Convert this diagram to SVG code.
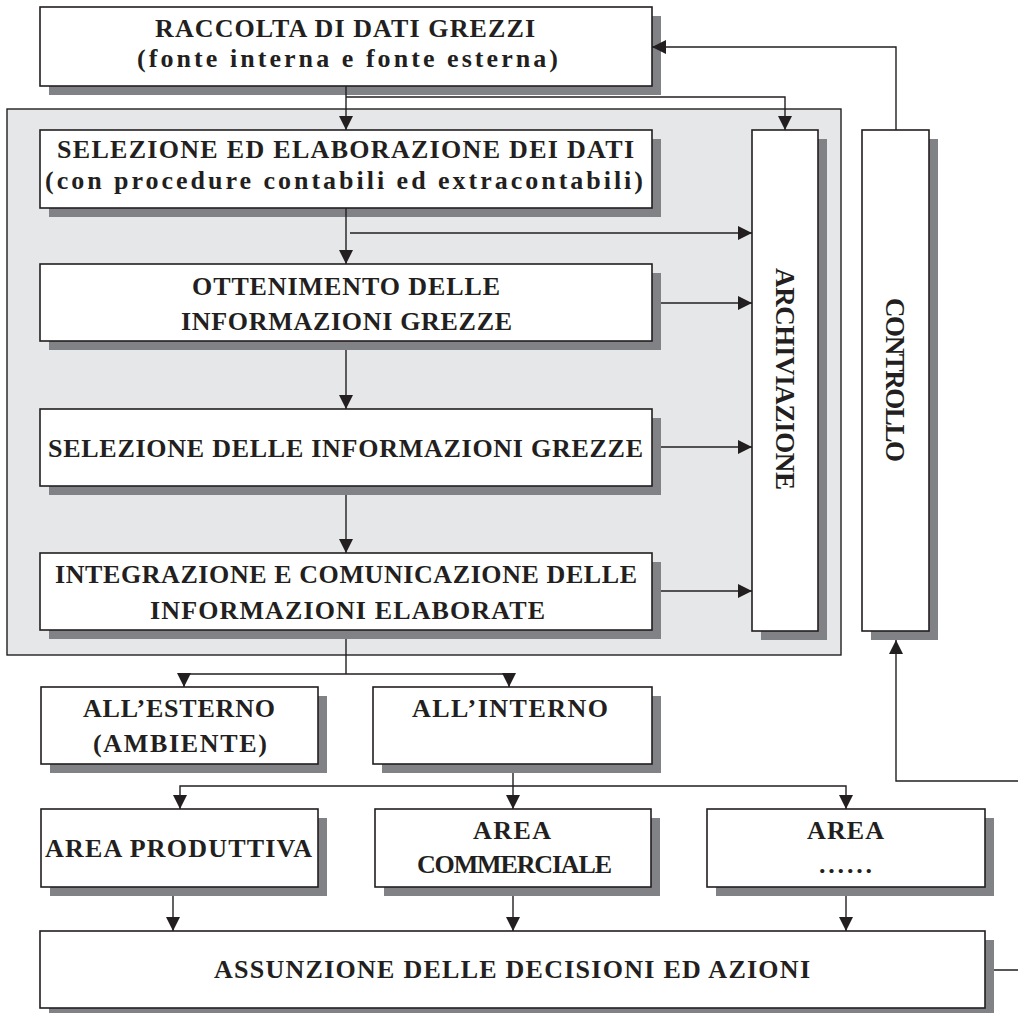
<svg xmlns="http://www.w3.org/2000/svg" width="1018" height="1013" viewBox="0 0 1018 1013">
<style>
.sh{fill:#808285}
.bx{fill:#fff;stroke:#231f20;stroke-width:1.6}
.t{font-family:"Liberation Serif","Times New Roman",serif;font-weight:bold;font-size:26px;fill:#231f20}
.lc{font-size:26px}
.c{fill:none;stroke:#231f20;stroke-width:1.4}
</style>
<defs>
<marker id="ah" markerUnits="userSpaceOnUse" markerWidth="15" markerHeight="14" refX="14" refY="7" orient="auto">
<path d="M0,0 L14,7 L0,14 z" fill="#231f20"/>
</marker>
</defs>
<rect x="0" y="0" width="1018" height="1013" fill="#fff"/>

<g id="panel">
<rect x="7" y="109" width="834" height="546" fill="#e6e7e8" stroke="#231f20" stroke-width="1.4"/>
</g>

<g id="raccolta">
<rect class="sh" x="49" y="16" width="612" height="79"/>
<rect class="bx" x="40" y="7" width="612" height="79"/>
<text class="t" x="155" y="37" textLength="380" lengthAdjust="spacing">RACCOLTA DI DATI GREZZI</text>
<text class="t lc" x="137" y="67" textLength="421" lengthAdjust="spacing">(fonte interna e fonte esterna)</text>
</g>

<g id="selezione">
<rect class="sh" x="49" y="139" width="612" height="78"/>
<rect class="bx" x="40" y="130" width="612" height="78"/>
<text class="t" x="57" y="158" textLength="577" lengthAdjust="spacing">SELEZIONE ED ELABORAZIONE DEI DATI</text>
<text class="t lc" x="45" y="189" textLength="598" lengthAdjust="spacing">(con procedure contabili ed extracontabili)</text>
</g>

<g id="ottenimento">
<rect class="sh" x="49" y="273" width="612" height="77"/>
<rect class="bx" x="40" y="264" width="612" height="77"/>
<text class="t" x="192" y="295" textLength="308" lengthAdjust="spacing">OTTENIMENTO DELLE</text>
<text class="t" x="181" y="330" textLength="331" lengthAdjust="spacing">INFORMAZIONI GREZZE</text>
</g>

<g id="selezione-info">
<rect class="sh" x="49" y="418" width="612" height="77"/>
<rect class="bx" x="40" y="409" width="612" height="77"/>
<text class="t" x="48" y="457" textLength="595" lengthAdjust="spacing">SELEZIONE DELLE INFORMAZIONI GREZZE</text>
</g>

<g id="integrazione">
<rect class="sh" x="49" y="562" width="612" height="77"/>
<rect class="bx" x="40" y="553" width="612" height="77"/>
<text class="t" x="55" y="583" textLength="582" lengthAdjust="spacing">INTEGRAZIONE E COMUNICAZIONE DELLE</text>
<text class="t" x="150" y="619" textLength="395" lengthAdjust="spacing">INFORMAZIONI ELABORATE</text>
</g>

<g id="archiviazione">
<rect class="sh" x="761" y="139" width="66" height="501"/>
<rect class="bx" x="752" y="130" width="66" height="501"/>
<text class="t" style="font-size:27px" text-anchor="middle" transform="translate(776,379) rotate(90)" x="0" y="0" textLength="222" lengthAdjust="spacing">ARCHIVIAZIONE</text>
</g>

<g id="controllo">
<rect class="sh" x="871" y="139" width="67" height="501"/>
<rect class="bx" x="862" y="130" width="67" height="501"/>
<text class="t" style="font-size:27px" text-anchor="middle" transform="translate(886,380) rotate(90)" x="0" y="0" textLength="164" lengthAdjust="spacing">CONTROLLO</text>
</g>

<g id="esterno">
<rect class="sh" x="50" y="696" width="277" height="77"/>
<rect class="bx" x="41" y="687" width="277" height="77"/>
<text class="t" x="83" y="717" textLength="192" lengthAdjust="spacing">ALL’ESTERNO</text>
<text class="t" x="93" y="752" textLength="174" lengthAdjust="spacing">(AMBIENTE)</text>
</g>

<g id="interno">
<rect class="sh" x="382" y="696" width="279" height="77"/>
<rect class="bx" x="373" y="687" width="279" height="77"/>
<text class="t" x="412" y="717" textLength="196" lengthAdjust="spacing">ALL’INTERNO</text>
</g>

<g id="produttiva">
<rect class="sh" x="50" y="818" width="277" height="78"/>
<rect class="bx" x="41" y="809" width="277" height="78"/>
<text class="t" x="45" y="857" textLength="267" lengthAdjust="spacing">AREA PRODUTTIVA</text>
</g>

<g id="commerciale">
<rect class="sh" x="384" y="818" width="276" height="78"/>
<rect class="bx" x="375" y="809" width="276" height="78"/>
<text class="t" x="473" y="839" textLength="78" lengthAdjust="spacing">AREA</text>
<text class="t" x="417" y="873" textLength="195" lengthAdjust="spacing">COMMERCIALE</text>
</g>

<g id="area-altro">
<rect class="sh" x="716" y="818" width="278" height="78"/>
<rect class="bx" x="707" y="809" width="278" height="78"/>
<text class="t" x="807" y="839" textLength="77" lengthAdjust="spacing">AREA</text>
<text class="t" x="819" y="873" textLength="53" lengthAdjust="spacing">......</text>
</g>

<g id="assunzione">
<rect class="sh" x="49" y="940" width="945" height="77"/>
<rect class="bx" x="40" y="931" width="945" height="77"/>
<text class="t" x="214" y="978" textLength="596" lengthAdjust="spacing">ASSUNZIONE DELLE DECISIONI ED AZIONI</text>
</g>

<g id="connectors">
<path class="c" d="M346,86 V130" marker-end="url(#ah)"/>
<path class="c" d="M346,97 H785 V130" marker-end="url(#ah)"/>
<path class="c" d="M896,130 V47 H652" marker-end="url(#ah)"/>
<path class="c" d="M346,208 V264" marker-end="url(#ah)"/>
<path class="c" d="M350,233 H752" marker-end="url(#ah)"/>
<path class="c" d="M661,303 H752" marker-end="url(#ah)"/>
<path class="c" d="M346,350 V409" marker-end="url(#ah)"/>
<path class="c" d="M661,447 H752" marker-end="url(#ah)"/>
<path class="c" d="M346,495 V553" marker-end="url(#ah)"/>
<path class="c" d="M661,591 H752" marker-end="url(#ah)"/>
<path class="c" d="M346,639 V674"/>
<path class="c" d="M346,674 H184 V687" marker-end="url(#ah)"/>
<path class="c" d="M346,674 H509 V687" marker-end="url(#ah)"/>
<path class="c" d="M513,773 V809" marker-end="url(#ah)"/>
<path class="c" d="M513,786 H180 V809" marker-end="url(#ah)"/>
<path class="c" d="M513,786 H846 V809" marker-end="url(#ah)"/>
<path class="c" d="M173,896 V931" marker-end="url(#ah)"/>
<path class="c" d="M513,896 V931" marker-end="url(#ah)"/>
<path class="c" d="M846,896 V931" marker-end="url(#ah)"/>
<path class="c" d="M994,970 H1030 V781 H896 V640" marker-end="url(#ah)"/>
</g>
</svg>
